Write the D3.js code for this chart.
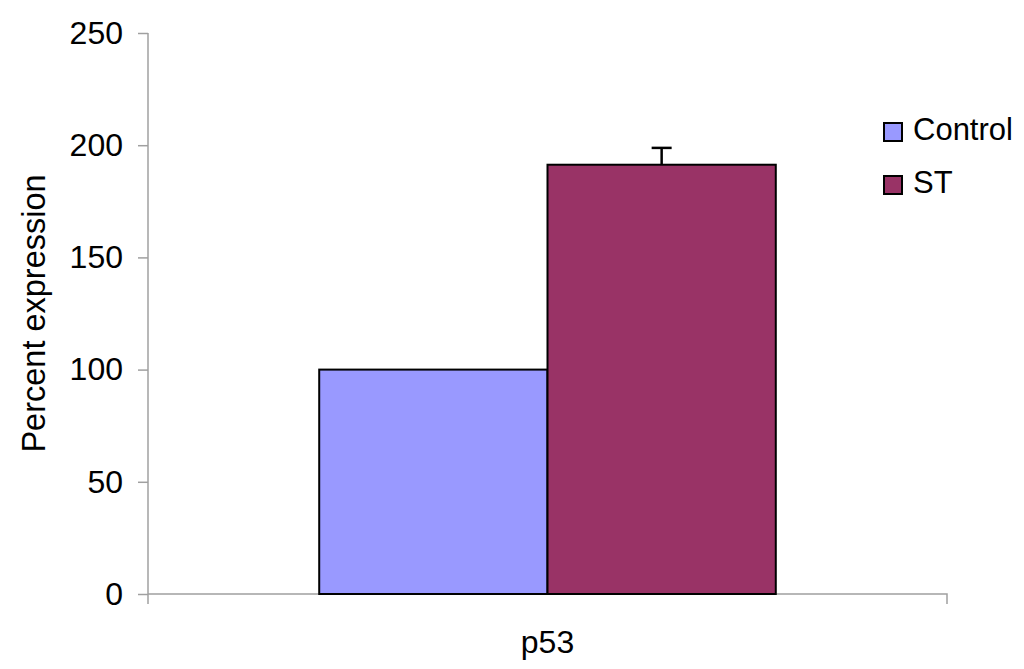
<!DOCTYPE html>
<html>
<head>
<meta charset="utf-8">
<script src="https://cdn.jsdelivr.net/npm/d3@7"></script>
<style>
  html, body { margin: 0; padding: 0; background: #fff; }
  text { font-family: "Liberation Sans", Arial, sans-serif; fill: #000; }
</style>
</head>
<body>
<script>
const categories = ["p53"];
const seriesNames = ["Control", "ST"];
const seriesColors = ["#9999FF", "#993366"];
const controlValues = [100];
const stValues = [191.3];
const stErrors = [7.5];
const yTicks = [0, 50, 100, 150, 200, 250];
const yTitle = "Percent expression";

const W = 1024, H = 669;
const svg = d3.select("body").append("svg").attr("width", W).attr("height", H);

const mLeft = 148, mRight = 947, mTop = 33, mBottom = 594;
const y = d3.scaleLinear().domain([0, 250]).range([mBottom, mTop]);
const x0 = d3.scaleBand().domain(categories).range([mLeft, mRight]).padding(0);
const x1 = d3.scaleBand().domain(seriesNames).range([0, x0.bandwidth()]).paddingInner(0).paddingOuter(0.75);

const axisColor = "#a0a0a0";
const fs = 32;

// Y axis
const yAxis = svg.append("g").attr("transform", `translate(${mLeft},0)`)
  .call(d3.axisLeft(y).tickValues(yTicks).tickSize(10).tickPadding(15).tickFormat(d3.format("d")));
yAxis.select(".domain").attr("stroke", axisColor).attr("stroke-width", 1.5).attr("d", `M0,${mTop}V${mBottom + 10}`);
yAxis.selectAll(".tick line").attr("stroke", axisColor).attr("stroke-width", 1.5);
yAxis.selectAll(".tick text").attr("font-size", fs).attr("font-family", "Liberation Sans, Arial, sans-serif").attr("fill", "#000");

// X axis
const xAxis = svg.append("g").attr("transform", `translate(0,${mBottom})`)
  .call(d3.axisBottom(x0).tickSize(0).tickPadding(36));
xAxis.select(".domain").attr("stroke", axisColor).attr("stroke-width", 1.5).attr("d", `M${mLeft},0H${mRight}V10`);
xAxis.selectAll(".tick text").attr("font-size", fs).attr("font-family", "Liberation Sans, Arial, sans-serif").attr("fill", "#000");

// Bars
const rows = categories.map((c, i) => ({
  cat: c,
  vals: [
    { s: seriesNames[0], v: controlValues[i], e: null },
    { s: seriesNames[1], v: stValues[i], e: stErrors[i] }
  ]
}));
const color = d3.scaleOrdinal().domain(seriesNames).range(seriesColors);

const g = svg.selectAll(".cat").data(rows).enter().append("g")
  .attr("transform", d => `translate(${x0(d.cat)},0)`);
g.selectAll("rect").data(d => d.vals).enter().append("rect")
  .attr("x", d => x1(d.s))
  .attr("y", d => y(d.v))
  .attr("width", x1.bandwidth())
  .attr("height", d => y(0) - y(d.v))
  .attr("fill", d => color(d.s))
  .attr("stroke", "#000").attr("stroke-width", 2);

// Error bars (plus only)
const eb = g.selectAll(".err").data(d => d.vals.filter(v => v.e != null)).enter().append("g");
eb.append("line")
  .attr("x1", d => x1(d.s) + x1.bandwidth() / 2).attr("x2", d => x1(d.s) + x1.bandwidth() / 2)
  .attr("y1", d => y(d.v)).attr("y2", d => y(d.v + d.e))
  .attr("stroke", "#000").attr("stroke-width", 2.5);
eb.append("line")
  .attr("x1", d => x1(d.s) + x1.bandwidth() / 2 - 10).attr("x2", d => x1(d.s) + x1.bandwidth() / 2 + 10)
  .attr("y1", d => y(d.v + d.e)).attr("y2", d => y(d.v + d.e))
  .attr("stroke", "#000").attr("stroke-width", 2.5);

// Y title
svg.append("text")
  .attr("transform", `translate(45,${(mTop + mBottom) / 2}) rotate(-90)`)
  .attr("text-anchor", "middle")
  .attr("font-size", 32.5)
  .text(yTitle);

// Legend
const leg = svg.append("g").attr("transform", "translate(884,0)");
const li = leg.selectAll("g").data(seriesNames).enter().append("g")
  .attr("transform", (d, i) => `translate(0,${140 + i * 53})`);
li.append("rect").attr("x", 0).attr("y", -17).attr("width", 18).attr("height", 18)
  .attr("fill", d => color(d)).attr("stroke", "#000").attr("stroke-width", 2);
li.append("text").attr("x", 29).attr("y", 0).attr("font-size", 31).text(d => d);
</script>
</body>
</html>
